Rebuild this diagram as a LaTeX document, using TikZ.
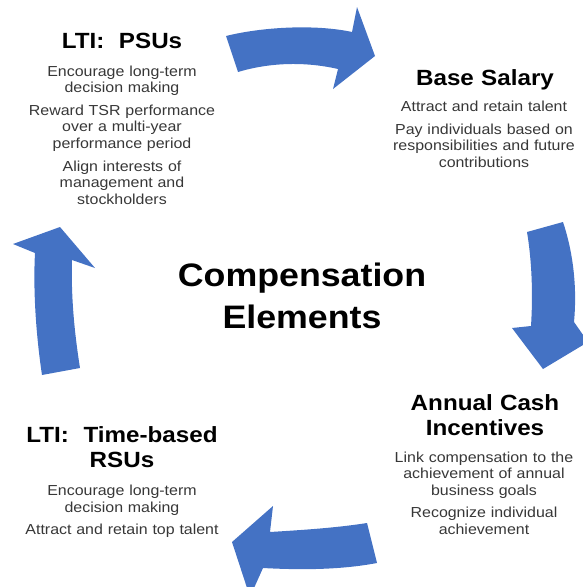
\documentclass[tikz,border=0pt]{standalone}
\usepackage{fontspec}
\setmainfont[FakeStretch=1.1]{Liberation Sans}
\usepackage{tikz}

\definecolor{arrowblue}{RGB}{68,114,196}
\definecolor{bodygray}{RGB}{55,55,55}

\tikzset{
    blockarrow/.style={fill=arrowblue, draw=none},
    headtext/.style={font=\fontsize{22}{25}\selectfont\bfseries, text=black, align=center, text width=240pt, inner sep=0pt, anchor=base},
    bodytext/.style={font=\fontsize{14.5}{16.8}\selectfont, text=bodygray, align=center, text width=240pt, inner sep=0pt, anchor=base},
    titletext/.style={font=\fontsize{32.5}{41.3}\selectfont\bfseries, text=black, align=center, text width=300pt, inner sep=0pt, anchor=base}
}

\begin{document}
\begin{tikzpicture}[x=1pt,y=-1pt]
        % Fix the page size
        \useasboundingbox (0,0) rectangle (583,587);

        % Draw the curved block arrows
        \begin{scope}
            \clip (0,0) rectangle (583,587);
            \fill[blockarrow] (226,36) .. controls (262,27) and (315,24) .. (352,32) -- (357,7) -- (375,56) -- (333,89) -- (338,69) .. controls (303,61) and (268,63) .. (238,72) -- cycle;
            \fill[blockarrow] (527,232) -- (563,222) .. controls (574,255) and (577,290) .. (574,322) -- (588,342) -- (543,369) -- (512,328) -- (531,326) .. controls (533,295) and (532,262) .. (527,232) -- cycle;
            \fill[blockarrow] (367,523) -- (377,563) .. controls (340,570) and (300,570) .. (263,568) -- (250,597) -- (232,542) -- (273,506) -- (270,532) .. controls (302,530) and (335,528) .. (367,523) -- cycle;
            \fill[blockarrow] (42,375) -- (80,368) .. controls (74,330) and (71,295) .. (72,260) -- (95,268) -- (60,227) -- (13,244) -- (35,253) .. controls (33,290) and (36,335) .. (42,375) -- cycle;
        \end{scope}

        % Centre title
        \node[titletext] (title) at (302,286.7) {Compensation\\Elements};

        % LTI: PSUs
        \node[headtext] (psuhead) at (122,48) {LTI:~~PSUs};
        \node[bodytext] (psubody) at (122,76) {Encourage long-term\\decision making\\[5.5pt]Reward TSR performance\\over a multi-year\\performance period\\[5.5pt]Align interests of\\management and\\stockholders};

        % Base salary
        \node[headtext] (salhead) at (485,85) {Base Salary};
        \node[bodytext] (salbody) at (484,111.7) {Attract and retain talent\\[5.5pt]Pay individuals based on\\responsibilities and future\\contributions};

        % Annual cash incentives
        \node[headtext] (cashhead) at (485,410) {Annual Cash\\Incentives};
        \node[bodytext] (cashbody) at (484,462) {Link compensation to the\\achievement of annual\\business goals\\[5.5pt]Recognize individual\\achievement};

        % LTI: time-based RSUs
        \node[headtext] (rsuhead) at (122,442) {LTI:~~Time-based\\RSUs};
        \node[bodytext] (rsubody) at (122,495.7) {Encourage long-term\\decision making\\[5.5pt]Attract and retain top talent};
\end{tikzpicture}
\end{document}
